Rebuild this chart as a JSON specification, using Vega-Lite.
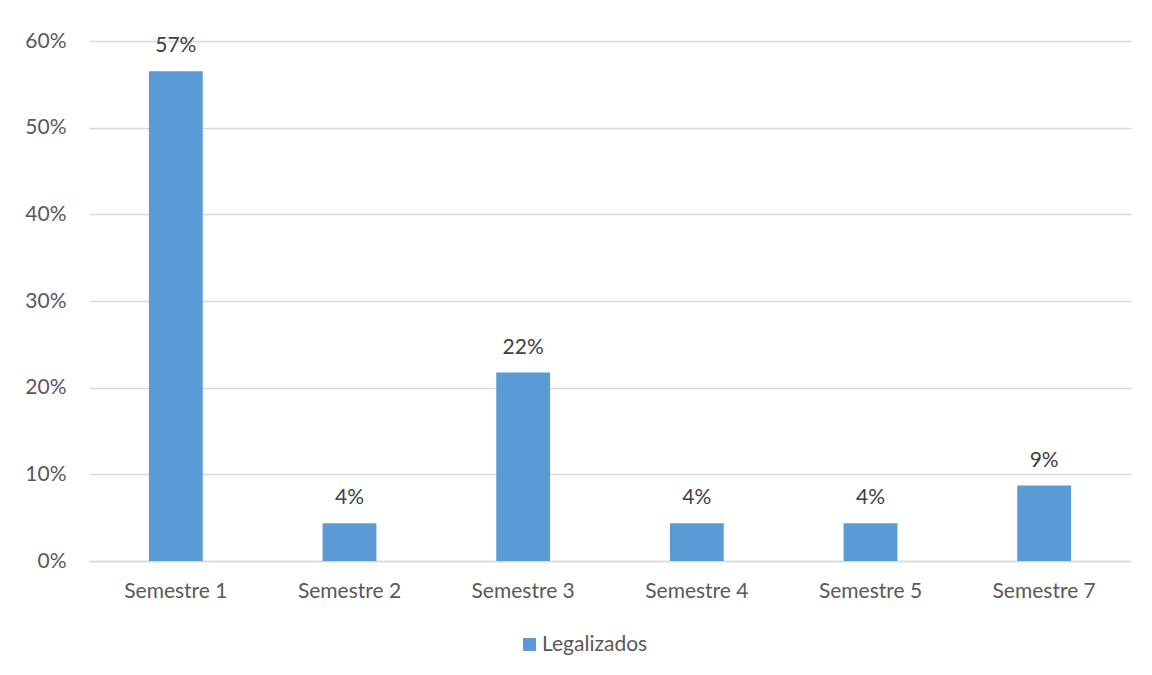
{
  "$schema": "https://vega.github.io/schema/vega-lite/v6.json",
  "width": 1042,
  "height": 520,
  "autosize": {"type": "none"},
  "padding": {"left": 89, "top": 41, "right": 21, "bottom": 114},
  "background": "white",
  "data": {
    "values": [
      {"semestre": "Semestre 1", "valor": 0.5652, "serie": "Legalizados"},
      {"semestre": "Semestre 2", "valor": 0.0435, "serie": "Legalizados"},
      {"semestre": "Semestre 3", "valor": 0.2174, "serie": "Legalizados"},
      {"semestre": "Semestre 4", "valor": 0.0435, "serie": "Legalizados"},
      {"semestre": "Semestre 5", "valor": 0.0435, "serie": "Legalizados"},
      {"semestre": "Semestre 7", "valor": 0.087, "serie": "Legalizados"}
    ]
  },
  "encoding": {
    "x": {
      "field": "semestre",
      "type": "nominal",
      "sort": null,
      "title": null,
      "scale": {"paddingInner": 0.69, "paddingOuter": 0.345},
      "axis": {
        "labelAngle": 0,
        "labelFont": "Lato",
        "labelFontSize": 21,
        "labelColor": "#595959",
        "labelPadding": 19,
        "ticks": false,
        "domainColor": "#d9d9d9",
        "domainWidth": 1.5
      }
    },
    "y": {
      "field": "valor",
      "type": "quantitative",
      "title": null,
      "scale": {"domain": [0, 0.6], "nice": false},
      "axis": {
        "format": ".0%",
        "values": [0, 0.1, 0.2, 0.3, 0.4, 0.5, 0.6],
        "labelFont": "Lato",
        "labelFontSize": 21,
        "labelColor": "#595959",
        "labelPadding": 23,
        "ticks": false,
        "domain": false,
        "gridColor": "#d9d9d9",
        "gridWidth": 1.5
      }
    }
  },
  "layer": [
    {
      "mark": {"type": "bar", "color": "#5b9bd5"},
      "encoding": {
        "color": {
          "field": "serie",
          "type": "nominal",
          "scale": {"range": ["#5b9bd5"]},
          "legend": {
            "orient": "none",
            "legendX": 430,
            "legendY": 593,
            "direction": "horizontal",
            "title": null,
            "symbolType": "square",
            "symbolSize": 169,
            "symbolOpacity": 1,
            "symbolStrokeWidth": 0,
            "labelOffset": 2,
            "labelFont": "Lato",
            "labelFontSize": 21,
            "labelColor": "#595959"
          }
        }
      }
    },
    {
      "mark": {"type": "text", "dy": -25, "font": "Lato", "fontSize": 21, "color": "#404040"},
      "encoding": {
        "text": {"field": "valor", "type": "quantitative", "format": ".0%"}
      }
    }
  ],
  "config": {"view": {"stroke": null}}
}
